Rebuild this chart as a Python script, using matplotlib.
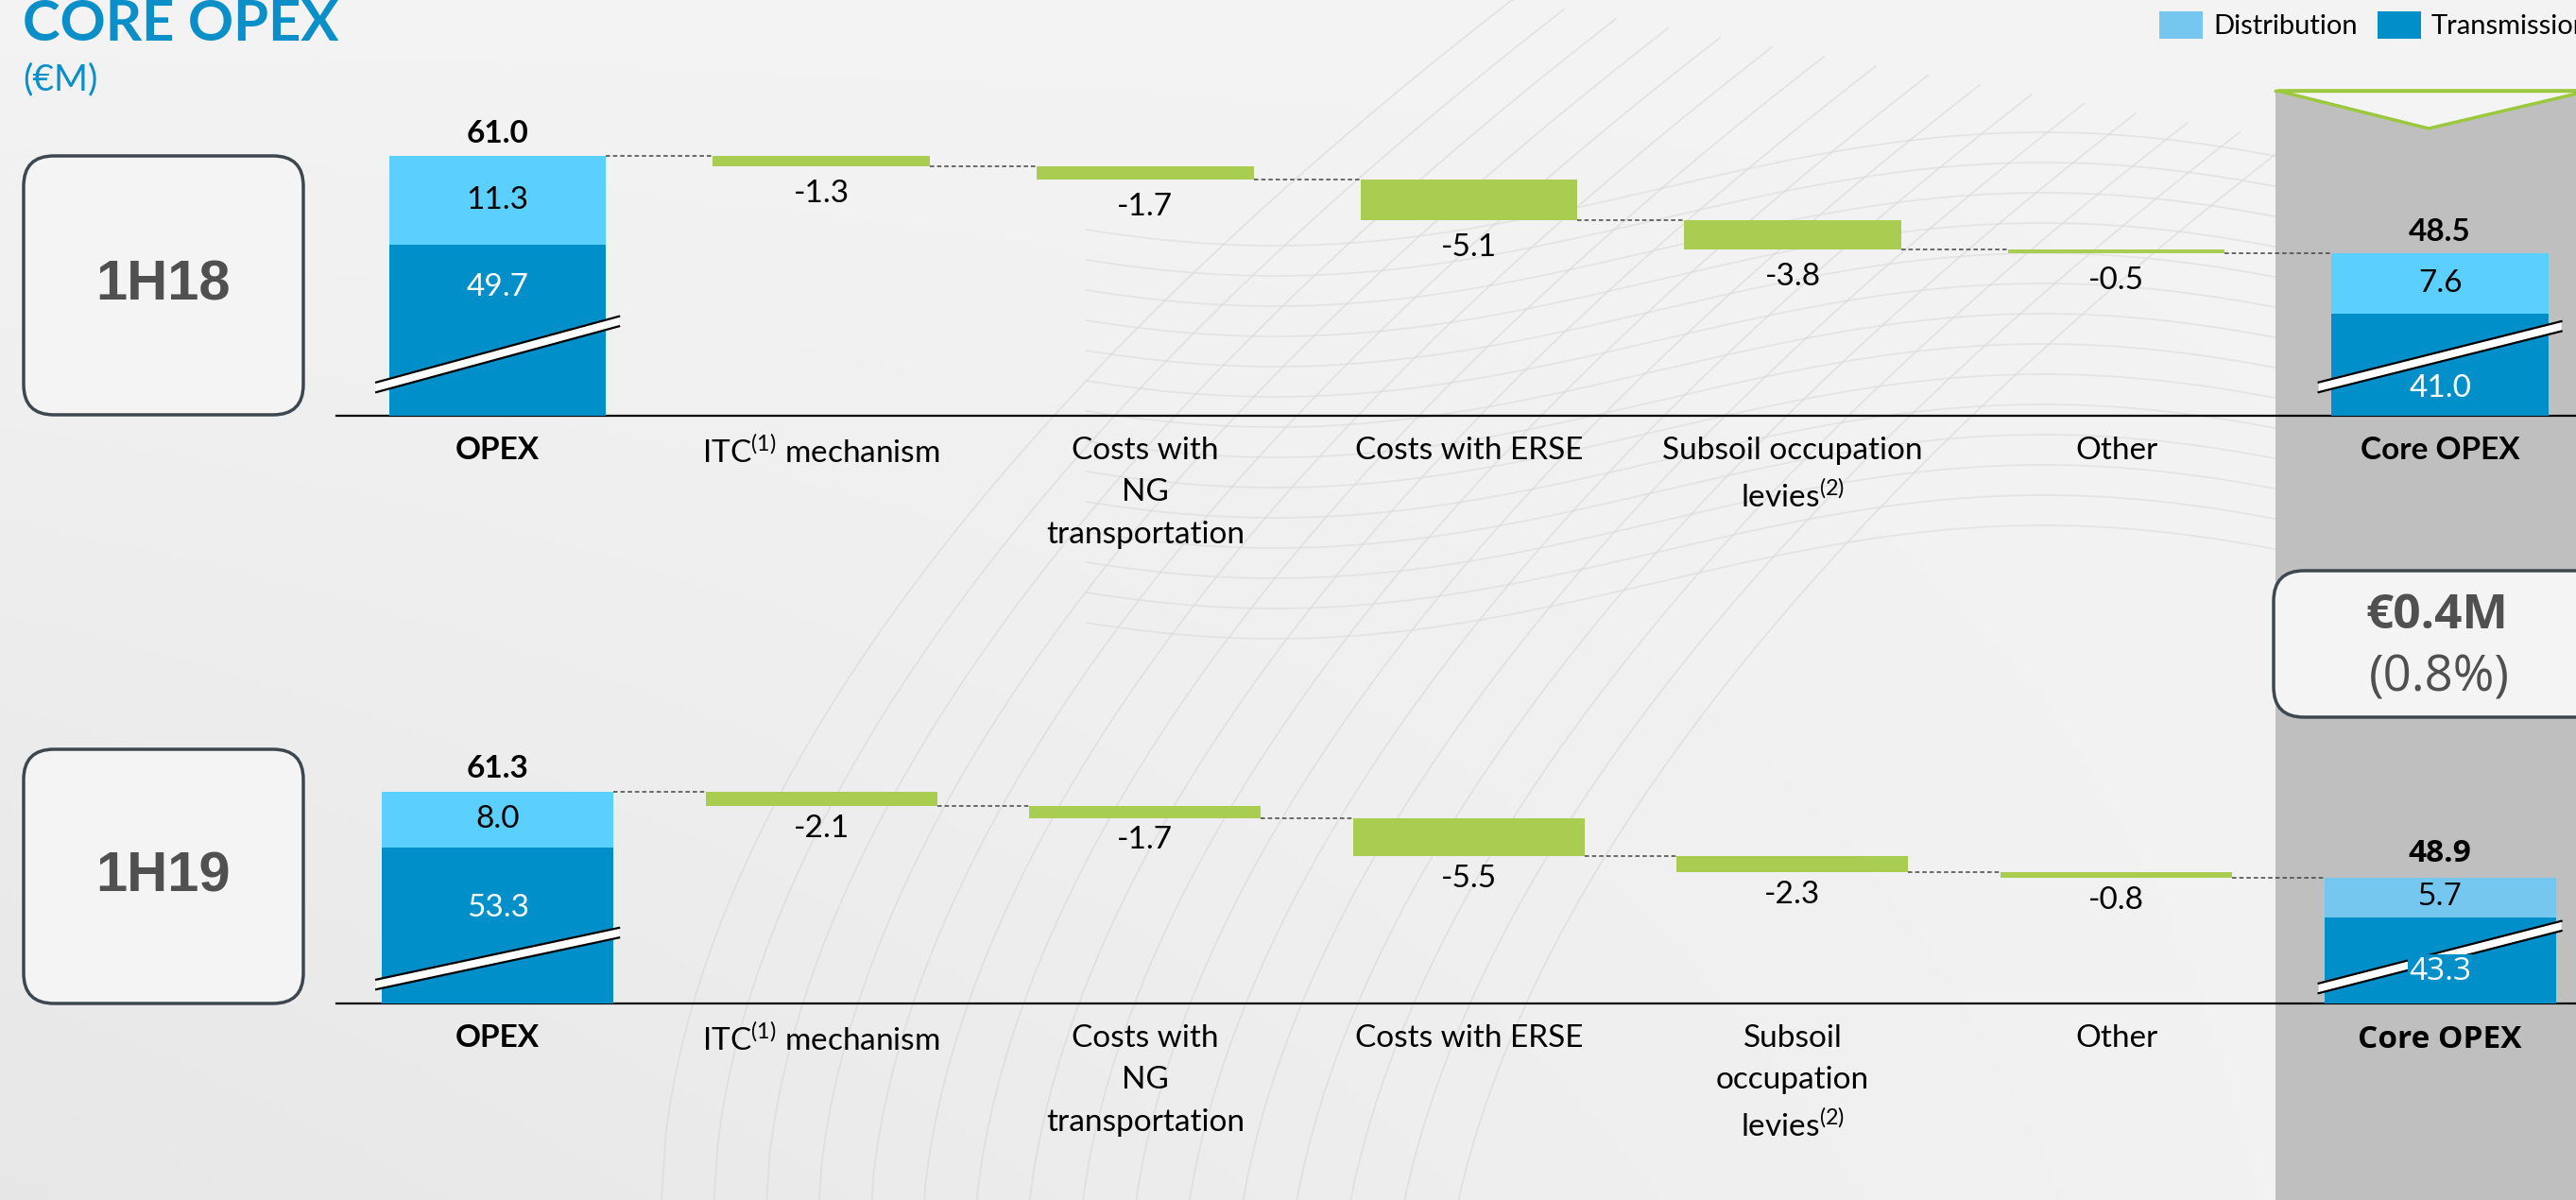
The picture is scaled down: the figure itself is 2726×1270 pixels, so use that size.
import numpy as np
import matplotlib
matplotlib.use("Agg")
import matplotlib.pyplot as plt
import matplotlib.transforms as mtransforms
from matplotlib.patches import FancyBboxPatch, Polygon, Rectangle, Patch

# ---------------- data ----------------
periods = ["1H18", "1H19"]
labels_1h18 = ["OPEX", "ITC$^{\\mathrm{(1)}}$ mechanism", "Costs with\nNG\ntransportation",
               "Costs with ERSE", "Subsoil occupation\nlevies$^{\\mathrm{(2)}}$", "Other", "Core OPEX"]
labels_1h19 = ["OPEX", "ITC$^{\\mathrm{(1)}}$ mechanism", "Costs with\nNG\ntransportation",
               "Costs with ERSE", "Subsoil\noccupation\nlevies$^{\\mathrm{(2)}}$", "Other", "Core OPEX"]
opex_distribution = [11.3, 8.0]
opex_transmission = [49.7, 53.3]
opex_total = [61.0, 61.3]
deltas_1h18 = [-1.3, -1.7, -5.1, -3.8, -0.5]
deltas_1h19 = [-2.1, -1.7, -5.5, -2.3, -0.8]
core_distribution = [7.6, 5.7]
core_transmission = [41.0, 43.3]
core_total = [48.5, 48.9]
variation_abs = "€0.4M"
variation_pct = "(0.8%)"
legend_labels = ["Distribution", "Transmission"]

# ---------------- style ----------------
BODY = ["Lato", "DejaVu Sans"]
ARIAL = ["Liberation Sans", "DejaVu Sans"]
VERD = ["Open Sans", "DejaVu Sans"]
plt.rcParams["font.family"] = BODY
plt.rcParams["mathtext.fontset"] = "custom"
plt.rcParams["mathtext.rm"] = "Lato"
plt.rcParams["mathtext.it"] = "Lato:italic"
plt.rcParams["mathtext.bf"] = "Lato:bold"

C_DIST = "#5bcffd"
C_DIST2 = "#75c7f0"
C_TRANS = "#008fc8"
C_GREEN = "#a8cd51"
C_PANEL = "#bfbfbf"
C_BG = "#f3f3f3"
C_TITLE = "#0a8fc9"
C_BOXTXT = "#505050"
FS = 24

W, H = 2726, 1270
fig = plt.figure(figsize=(W / 100, H / 100), dpi=100, facecolor=C_BG)

# background / decoration layer in pixel coordinates
bg = fig.add_axes([0, 0, 1, 1], zorder=-5)
bg.set_xlim(0, W)
bg.set_ylim(H, 0)
bg.axis("off")
grad = np.linspace(0, 1, 256)
gx, gy = np.meshgrid(grad, grad)
shade = 0.955 - 0.05 * np.clip((1 - gx) * gy, 0, 1)
bg.imshow(np.dstack([shade, shade, shade]), extent=[0, W, H, 0], aspect="auto", zorder=0)

# faint decorative curves
t = np.linspace(0, 1, 200)
for k in range(16):
    xs = 700 + k * 55 + 900 * t
    ys = 1270 - 1270 * t ** 0.55 + k * 10
    bg.plot(xs, ys, color="#d6d6d6", lw=1.3, alpha=0.55, zorder=1)
for k in range(14):
    xs = 1150 + 1300 * t
    ys = 200 + k * 32 + 60 * np.sin(np.pi * 1.6 * t + 0.8)
    bg.plot(xs, ys, color="#d9d9d9", lw=1.3, alpha=0.55, zorder=1)

# gray panel with green-outlined notch
bg.add_patch(Rectangle((2408, 96), 400, 1200, facecolor=C_PANEL, edgecolor="none", zorder=2))
bg.add_patch(Polygon([(2410, 96), (2570, 136), (2740, 96)], closed=True,
                     facecolor="#f4f4f4", edgecolor="#9bc83c", lw=2.5, zorder=3))
bg.plot([2408, W], [96, 96], color="#9bc83c", lw=2.5, zorder=3)

# period boxes
for (y0, y1), per in zip([(165, 439), (793, 1062)], periods):
    bg.add_patch(FancyBboxPatch((25, y0), 296, y1 - y0,
                                boxstyle="round,pad=0,rounding_size=32",
                                facecolor="#f4f4f4", edgecolor="#3d4750", lw=2.5, zorder=3))
    bg.text(173, (y0 + y1) / 2, per, ha="center", va="center", fontsize=43,
            fontweight="bold", color=C_BOXTXT, family=ARIAL, zorder=4)

# variation box
bg.add_patch(FancyBboxPatch((2406, 604), 360, 155, boxstyle="round,pad=0,rounding_size=32",
                            facecolor="#f4f4f4", edgecolor="#3d4750", lw=2.5, zorder=4))
bg.text(2579, 652, variation_abs, ha="center", va="center", fontsize=37, fontweight="bold",
        color=C_BOXTXT, family=VERD, zorder=5)
bg.text(2581, 718, variation_pct, ha="center", va="center", fontsize=38,
        color=C_BOXTXT, family=VERD, zorder=5)

# title
bg.text(24, 43, "CORE OPEX", ha="left", va="baseline", fontsize=43, fontweight="bold",
        color=C_TITLE, zorder=5)
bg.text(24, 95, "(€M)", ha="left", va="baseline", fontsize=28, color=C_TITLE, zorder=5)

# legend
leg = fig.legend(handles=[Patch(facecolor=C_DIST2, edgecolor="none"),
                          Patch(facecolor=C_TRANS, edgecolor="none")],
                 labels=legend_labels, loc="upper left", bbox_to_anchor=(2285 / W, 1 - 12 / H),
                 ncol=2, frameon=False, fontsize=21, handlelength=1.58, handleheight=1.16,
                 handletextpad=0.38, columnspacing=0.72, borderaxespad=0, borderpad=0)


def waterfall(ax, labels, i, deltas, width, ylow, breaks, trans_y, core_font, core_dist_col, doff):
    n = len(labels)
    # OPEX stacked bar
    ax.bar(0, opex_transmission[i], width=width, color=C_TRANS, zorder=3)
    ax.bar(0, opex_distribution[i], bottom=opex_transmission[i], width=width, color=C_DIST, zorder=3)
    # deltas
    level = opex_total[i]
    levels = [level]
    for j, d in enumerate(deltas):
        ax.bar(j + 1, d, bottom=level, width=width, color=C_GREEN, zorder=3)
        level += d
        levels.append(level)
    # core OPEX stacked bar
    ax.bar(n - 1, core_transmission[i], width=width, color=C_TRANS, zorder=3)
    ax.bar(n - 1, core_distribution[i], bottom=core_transmission[i], width=width,
           color=core_dist_col, zorder=3)
    # connectors
    for j, lv in enumerate(levels):
        ax.plot([j + width / 2, j + 1 - width / 2], [lv, lv], color="#444444", lw=1.1,
                ls=(0, (3, 2)), zorder=2)
    # labels
    ax.annotate(f"{opex_total[i]:.1f}", (0, opex_total[i]), xytext=(0, 7), textcoords="offset points",
                ha="center", va="bottom", fontsize=FS, fontweight="bold", color="black")
    ax.text(0, opex_transmission[i] + opex_distribution[i] / 2, f"{opex_distribution[i]:.1f}",
            ha="center", va="center", fontsize=FS, color="black", zorder=5)
    ax.text(0, trans_y[0], f"{opex_transmission[i]:.1f}", ha="center", va="center",
            fontsize=FS, color="white", zorder=6)
    lvl = opex_total[i]
    for j, d in enumerate(deltas):
        lvl += d
        ax.annotate(f"{d:.1f}", (j + 1, lvl), xytext=(0, doff), textcoords="offset points",
                    ha="center", va="top", fontsize=FS, color="black")
    ax.annotate(f"{core_total[i]:.1f}", (n - 1, core_total[i]), xytext=(0, 7), textcoords="offset points",
                ha="center", va="bottom", fontsize=FS, fontweight="bold", color="black",
                family=core_font)
    ax.text(n - 1, core_transmission[i] + core_distribution[i] / 2, f"{core_distribution[i]:.1f}",
            ha="center", va="center", fontsize=FS, color="black", zorder=5, family=core_font)
    ax.text(n - 1, trans_y[1], f"{core_transmission[i]:.1f}", ha="center", va="center",
            fontsize=FS, color="white", zorder=6, family=core_font,
            bbox=dict(facecolor=C_TRANS, edgecolor="none", pad=1) if i else None)
    # axis break marks
    tr = mtransforms.blended_transform_factory(ax.transData, ax.transAxes)
    for xc, (yl, yr, g) in zip([0, n - 1], breaks):
        x0, x1 = xc - 0.375, xc + 0.375
        ax.add_patch(Polygon([(x0, yl), (x1, yr), (x1, yr + g), (x0, yl + g)], closed=True,
                             transform=tr, facecolor="white", edgecolor="none", zorder=4, clip_on=False))
        ax.plot([x0, x1], [yl, yr], transform=tr, color="black", lw=1.6, zorder=5, clip_on=False)
        ax.plot([x0, x1], [yl + g, yr + g], transform=tr, color="black", lw=1.6, zorder=5, clip_on=False)

    ax.set_xlim(-0.497, 6.42)
    ax.set_ylim(ylow, 70.05)
    ax.set_xticks(range(n))
    ax.set_xticklabels(labels, fontsize=FS, linespacing=1.6)
    for k, tl in enumerate(ax.get_xticklabels()):
        if k in (0, n - 1):
            tl.set_fontweight("bold")
        if k == n - 1:
            tl.set_family(core_font)
    ax.tick_params(axis="x", length=0, pad=16)
    ax.set_yticks([])
    for s in ("top", "left", "right"):
        ax.spines[s].set_visible(False)
    ax.spines["bottom"].set_linewidth(1.6)
    ax.spines["bottom"].set_color("black")
    ax.patch.set_alpha(0)


ax1 = fig.add_axes([205 / 1568, 1 - 253 / 731, 1 - 205 / 1568, 201 / 731])
waterfall(ax1, labels_1h18, 0, deltas_1h18, 0.67, 28.0,
          breaks=[(0.07, 0.27, 0.03), (0.07, 0.255, 0.03)], trans_y=(44.3, 31.4),
          core_font=BODY, core_dist_col=C_DIST, doff=-10)

ax2 = fig.add_axes([205 / 1568, 1 - 611 / 731, 1 - 205 / 1568, 166 / 731])
waterfall(ax2, labels_1h19, 1, deltas_1h19, 0.715, 31.0,
          breaks=[(0.05, 0.24, 0.036), (0.036, 0.265, 0.036)], trans_y=(44.6, 35.5),
          core_font=VERD, core_dist_col=C_DIST2, doff=-6)

fig.savefig("out.png", dpi=100, facecolor=fig.get_facecolor())
